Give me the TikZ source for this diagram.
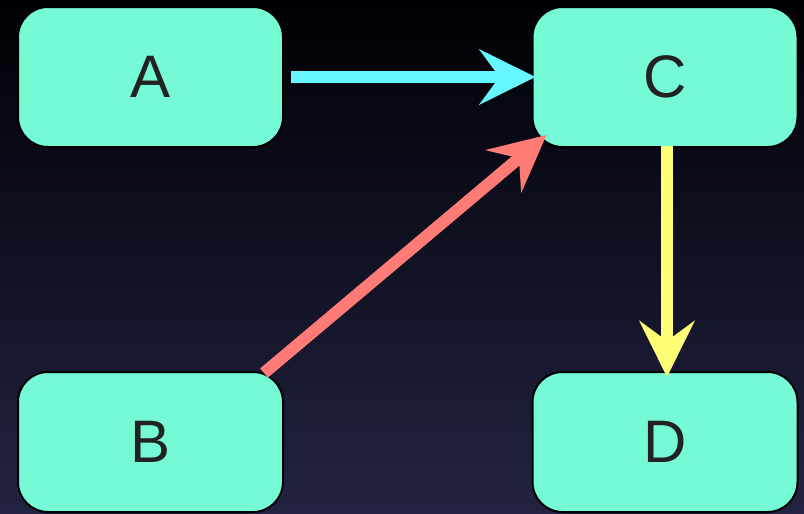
\documentclass[tikz,border=0pt]{standalone}
\usepackage{fontspec}
\setmainfont{Liberation Sans}
\usetikzlibrary{arrows.meta,calc}
\definecolor{bgtop}{RGB}{0,0,4}
\definecolor{bgmid}{RGB}{8,10,32}
\definecolor{bgbot}{RGB}{34,35,66}
\definecolor{boxfill}{RGB}{118,250,214}
\definecolor{txt}{RGB}{34,34,34}
\definecolor{cyanarrow}{RGB}{102,246,255}
\definecolor{redarrow}{RGB}{255,123,117}
\definecolor{yelarrow}{RGB}{255,255,119}
\begin{document}
\begin{tikzpicture}[x=1pt,y=-1pt,
  box/.style={draw=black,line width=2pt,fill=boxfill,rounded corners=30pt,
    minimum width=265pt,minimum height=140pt,inner sep=0pt,
    font=\fontsize{60}{60}\selectfont,text=txt},
  conn/.style={line width=12pt,-{Stealth[length=56pt,width=55pt,inset=20pt]}}]
\shade[top color=bgtop,middle color=bgmid,bottom color=bgbot] (0,0) rectangle (804,514);
\useasboundingbox (0,0) rectangle (804,514);
\node[box] (A) at (150.5,77) {A};
\node[box] (C) at (665,77) {C};
\node[box] (B) at (150.5,442) {B};
\node[box] (D) at (665,442) {D};
\draw[conn,cyanarrow] ($(A.east)+(7,0)$) -- ($(C.west)+(4,0)$);
\draw[conn,redarrow] ($(B.north east)+(-20,2)$) -- ($(C.south west)+(15,-13)$);
\draw[conn,yelarrow] ($(C.south)+(2,-2)$) -- ($(D.north)+(2,6)$);
\end{tikzpicture}
\end{document}
